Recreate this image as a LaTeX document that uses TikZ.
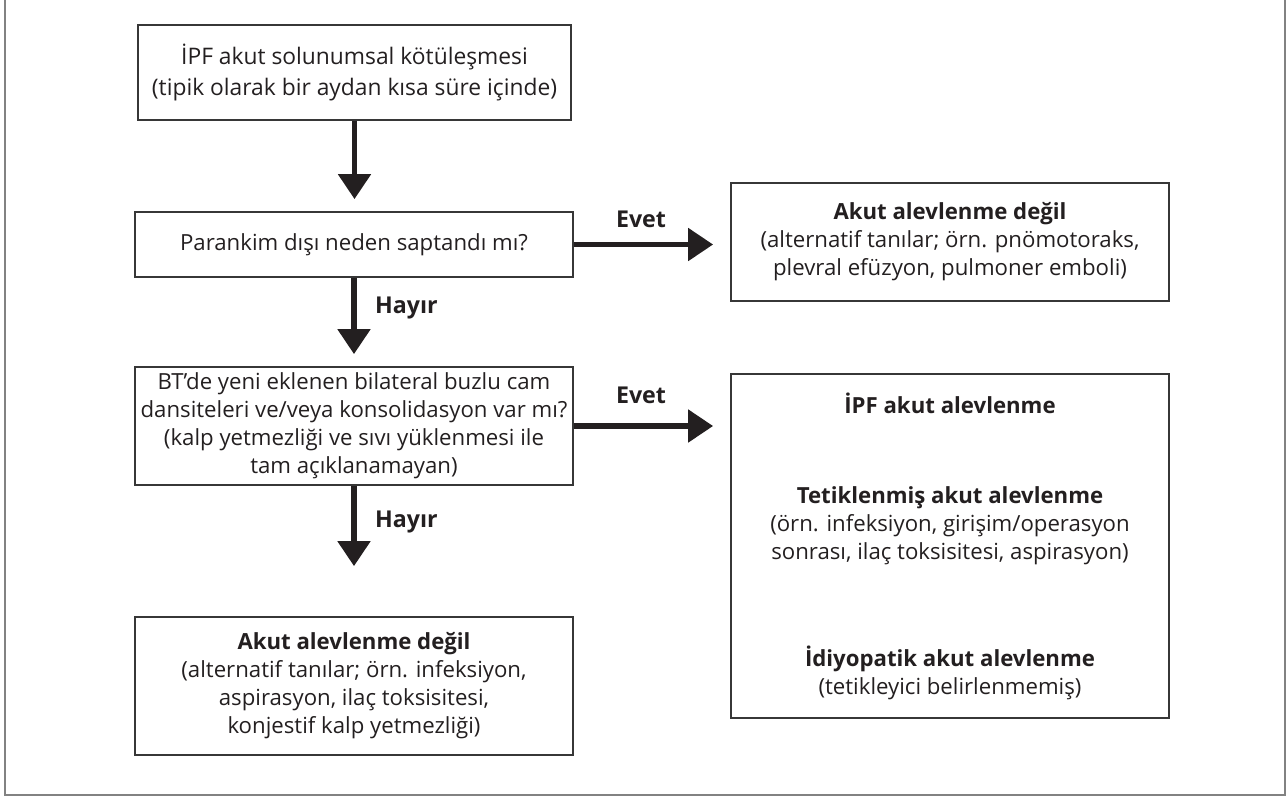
\documentclass[tikz,border=0pt]{standalone}
\usepackage{fontspec}
\setmainfont{Open Sans}
\usetikzlibrary{arrows.meta}

\begin{document}
\begin{tikzpicture}[x=0.5pt,y=-0.5pt,
  box/.style={draw=boxline, line width=0.9pt, text=ink, align=center,
    inner sep=0pt, font=\fontsize{11.1}{14}\selectfont},
  flow/.style={draw=ink, line width=2.6pt,
    -{Triangle[width=16pt,length=12.5pt]}},
  answer/.style={text=ink, font=\fontsize{11.6}{14}\selectfont\bfseries}]

\definecolor{ink}{RGB}{35,31,32}
\definecolor{boxline}{RGB}{55,55,55}
\definecolor{frame}{RGB}{130,130,130}

\path[use as bounding box] (0,0) rectangle (1286,800);

% frame
\draw[frame, line width=1.2pt] (5,0) -- (5,795) -- (1285,795) -- (1285,0);

% left column
\node[box, minimum width=216.5pt, minimum height=47.5pt,
  font=\fontsize{11.4}{15.5}\selectfont] (worse) at (354.5,72.5)
  {İPF akut solunumsal kötüleşmesi\\(tipik olarak bir aydan kısa süre içinde)};
\node[box, minimum width=219pt, minimum height=32.5pt] (extra) at (354,244.5)
  {Parankim dışı neden saptandı mı?};
\node[box, minimum width=219pt, minimum height=59pt] (ct) at (354,426)
  {BT’de yeni eklenen bilateral buzlu cam\\dansiteleri ve/veya konsolidasyon var mı?\\(kalp yetmezliği ve sıvı yüklenmesi ile\\tam açıklanamayan)};
\node[box, minimum width=219pt, minimum height=69pt] (notae) at (354,686)
  {\textbf{Akut alevlenme değil}\\(alternatif tanılar; örn. infeksiyon,\\aspirasyon, ilaç toksisitesi,\\konjestif kalp yetmezliği)};

% right column
\node[box, minimum width=219pt, minimum height=59pt] (other) at (950,242)
  {\textbf{Akut alevlenme değil}\\(alternatif tanılar; örn. pnömotoraks,\\plevral efüzyon, pulmoner emboli)};
\node[box, minimum width=219pt, minimum height=172pt] (ae) at (950,546)
  {\textbf{İPF akut alevlenme}\\[31pt]
   \textbf{Tetiklenmiş akut alevlenme}\\(örn. infeksiyon, girişim/operasyon\\sonrası, ilaç toksisitesi, aspirasyon)\\[39.5pt]
   \textbf{İdiyopatik akut alevlenme}\\(tetikleyici belirlenmemiş)};

% arrows
\draw[flow, shorten >=6pt] (worse.south) -- (worse.south |- extra.north);
\draw[flow, shorten >=6pt] (extra.south) -- (ct.north);
\draw[flow, shorten >=25pt] (ct.south) -- (notae.north);
\draw[flow, shorten >=8.5pt] (extra.east) -- (extra.east -| other.west);
\draw[flow, shorten >=8.5pt] (ct.east) -- (ct.east -| ae.west);

% labels
\node[answer] (yes1) at (641,219) {Evet};
\node[answer] (yes2) at (641,395) {Evet};
\node[answer, anchor=west] (no1) at (368,308) {Hayır};
\node[answer, anchor=west] (no2) at (368,522) {Hayır};

\end{tikzpicture}
\end{document}
